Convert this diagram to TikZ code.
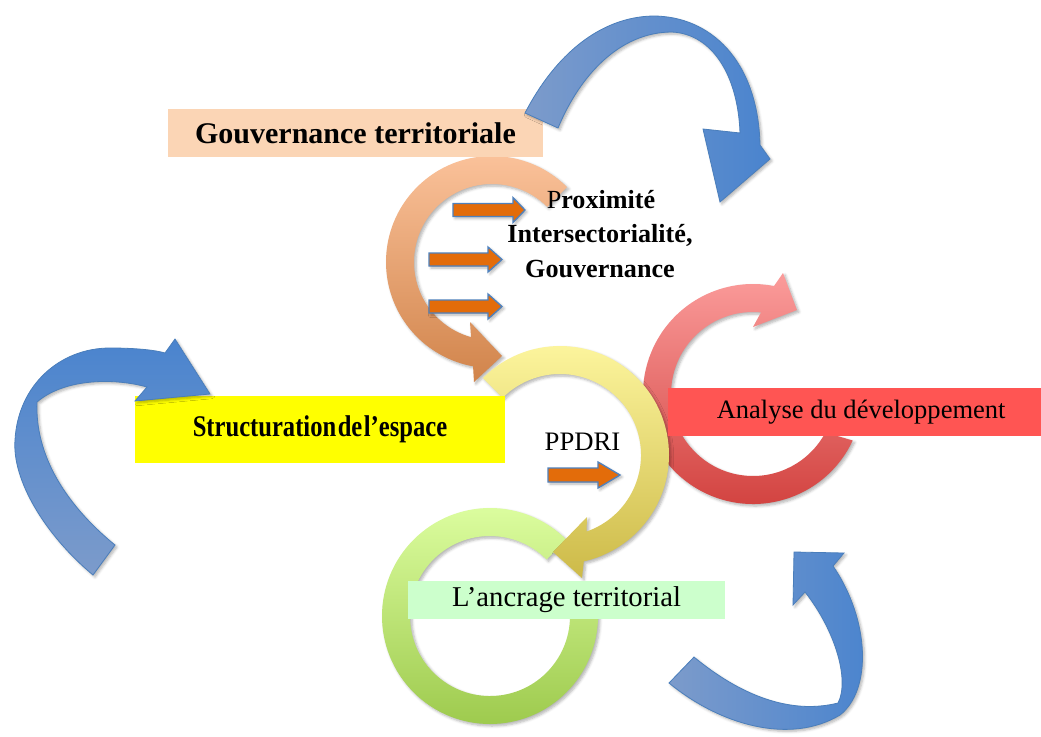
\documentclass[tikz,border=0pt]{standalone}
\usepackage{fontspec}
\setmainfont{Liberation Serif}
\usepackage{graphicx}
\usetikzlibrary{shadows.blur}
\definecolor{orTop}{HTML}{FCC49D}
\definecolor{orBot}{HTML}{D1844B}
\definecolor{yeTop}{HTML}{FEF7A0}
\definecolor{yeBot}{HTML}{CDBA48}
\definecolor{grTop}{HTML}{DEFFA2}
\definecolor{grBot}{HTML}{9BC84A}
\definecolor{rdTop}{HTML}{FB9C9B}
\definecolor{rdBot}{HTML}{D03E3B}
\definecolor{blGrey}{HTML}{7C9BCB}
\definecolor{blBright}{HTML}{4A84CE}
\definecolor{blEdge}{HTML}{4A7EBB}
\definecolor{arrFill}{HTML}{E36C0A}
\definecolor{arrEdge}{HTML}{4F81BD}
\definecolor{gouvBox}{HTML}{FBD5B5}
\definecolor{structBox}{HTML}{FFFF00}
\definecolor{anaBox}{HTML}{FF5553}
\definecolor{ancBox}{HTML}{CCFFCC}
\newcommand{\blockarr}[6]{% name, xstart, ycenter, xshaftend, xtip, shaft half
  \draw[smallarrow] (#2,#3-#6) -- (#4,#3-#6) -- (#4,#3-#6-6) -- (#5,#3) -- (#4,#3+#6+6) -- (#4,#3+#6) -- (#2,#3+#6) -- cycle;
  \coordinate (#1) at (#5,#3);}
\begin{document}
\begin{tikzpicture}[x=0.75pt,y=-0.75pt,
  softshadow/.style={blur shadow={shadow xshift=1.5pt,shadow yshift=-1.5pt,shadow blur steps=5,shadow opacity=30,shadow blur radius=2pt}},
  ringshape/.style={softshadow},
  bluearrow/.style={draw=blEdge,line width=0.6pt,softshadow},
  smallarrow/.style={fill=arrFill,draw=arrEdge,line width=1pt,softshadow},
  boxlabel/.style={inner sep=0pt,outer sep=0pt,text=black}]
\useasboundingbox (0,0) rectangle (1041,736);

% red ring
\path[ringshape,top color=rdTop,bottom color=rdBot]
  ([shift={(753,394)}]25:110) arc[start angle=25,end angle=281,radius=110]
  -- (783,273) -- (797,310) -- (753,327)
  -- ([shift={(753,394)}]275.6:82) arc[start angle=275.6,end angle=28,radius=82] -- cycle;

% green ring
\path[ringshape,top color=grTop,bottom color=grBot]
  ([shift={(490,616)}]315:108) arc[start angle=315,end angle=-8,radius=108]
  -- ([shift={(490,616)}]-8:80) arc[start angle=-8,end angle=315,radius=80] -- cycle;

% orange ring
\path[ringshape,top color=orTop,bottom color=orBot]
  ([shift={(492,262)}]315:106) arc[start angle=315,end angle=100.3,radius=106]
  -- (474,382) -- (502,356) -- (470,322)
  -- ([shift={(492,262)}]105.6:78) arc[start angle=105.6,end angle=315,radius=78] -- cycle;

% yellow ring
\path[ringshape,top color=yeTop,bottom color=yeBot]
  ([shift={(560,455)}]225:109) arc[start angle=225,end angle=437.4,radius=109]
  -- (582,578) -- (553,552) -- (587,517)
  -- ([shift={(560,455)}]430.9:81) arc[start angle=430.9,end angle=225,radius=81] -- cycle;

% boxes
\node[boxlabel,fill=anaBox,minimum width=279.75pt,minimum height=36pt,
      font=\fontsize{19.9pt}{24pt}\selectfont] (ana) at (854.5,412) {\hspace*{10pt}Analyse du développement};
\node[boxlabel,fill=gouvBox,minimum width=281.25pt,minimum height=36pt,
      font=\fontsize{22.5pt}{27pt}\selectfont\bfseries] (gouv) at (355.5,133) {Gouvernance territoriale};
\node[boxlabel,fill=structBox,minimum width=277.5pt,minimum height=50.25pt,
      font=\fontsize{22.5pt}{27pt}\selectfont\bfseries] (struct) at (320,429.5)
      {\scalebox{0.82}[1]{Structuration\hspace{0.06em}de\hspace{0.06em}l’espace}};
\node[boxlabel,fill=ancBox,minimum width=237.75pt,minimum height=28.5pt,
      font=\fontsize{21.5pt}{26pt}\selectfont] (anc) at (566.5,600) {L’ancrage territorial};

% inner texts
\node[boxlabel,anchor=base,font=\fontsize{19.6pt}{24pt}\selectfont\bfseries] (prox) at (601,208) {{\mdseries P}roximité};
\node[boxlabel,anchor=base,font=\fontsize{19.6pt}{24pt}\selectfont\bfseries] (inter) at (600,242) {Intersectorialité,};
\node[boxlabel,anchor=base,font=\fontsize{19.6pt}{24pt}\selectfont\bfseries] (gouvt) at (600,277) {Gouvernance};
\node[boxlabel,anchor=base,font=\fontsize{20pt}{24pt}\selectfont] (ppdri) at (582.5,450) {PPDRI};

% small block arrows
\blockarr{a1}{453}{210}{513}{525}{6.5}
\blockarr{a2}{429}{259.5}{488}{502}{6.5}
\blockarr{a3}{429}{306.5}{488}{502}{6.5}
\blockarr{a4}{548}{475}{598}{620}{7}

% top blue arrow
\path[bluearrow,left color=blGrey,right color=blBright]
  (525,113) .. controls (555,55) and (600,17) .. (653,16)
  .. controls (710,16) and (758,60) .. (760,145)
  -- (770,159) -- (720,202) -- (703,129) -- (740,133)
  .. controls (738,75) and (712,34) .. (672,32)
  .. controls (620,32) and (580,75) .. (558,128) -- cycle;

% left blue arrow
\path[bluearrow,top color=blBright,bottom color=blGrey]
  (93,575) .. controls (45,535) and (12,480) .. (15,440)
  .. controls (18,385) and (60,348) .. (110,348)
  .. controls (135,348) and (155,350) .. (165,353)
  -- (175,339) -- (210,394) -- (135,401) -- (147,387)
  .. controls (115,378) and (65,378) .. (37,402)
  .. controls (35,450) and (60,500) .. (115,545) -- cycle;

% bottom-right blue arrow
\path[bluearrow,left color=blGrey,right color=blBright]
  (669,683) .. controls (720,725) and (790,745) .. (840,715)
  .. controls (872,690) and (870,620) .. (833,566)
  -- (844,553) -- (794,552) -- (793,605) -- (805,592)
  .. controls (835,630) and (850,680) .. (838,703)
  .. controls (790,715) and (740,695) .. (694,657) -- cycle;
\end{tikzpicture}
\end{document}
